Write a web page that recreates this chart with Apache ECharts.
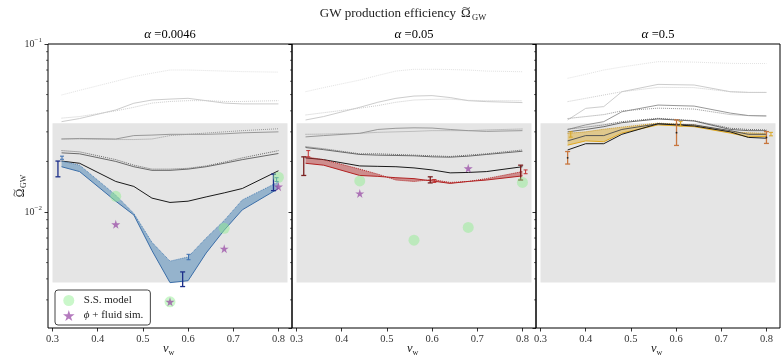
<!DOCTYPE html>
<html><head><meta charset="utf-8">
<script src="https://cdn.jsdelivr.net/npm/echarts@6/dist/echarts.min.js"></script>
<style>html,body{margin:0;padding:0;background:#fff}#c{width:782px;height:357px}</style>
</head><body><div id="c"></div>
<script>
const FONT = "'Liberation Serif', 'DejaVu Serif', serif";

// ---------- data ----------
const alphaLabels = ['0.0046', '0.05', '0.5'];
const xTickLabels = [0.3, 0.4, 0.5, 0.6, 0.7, 0.8];
const bandVw = [0.30, 0.82];
const bandOmega = [0.0038, 0.0337];
const minorTickVals = [0.003,0.004,0.005,0.006,0.007,0.008,0.009,0.02,0.03,0.04,0.05,0.06,0.07,0.08,0.09];

// Panel 1 (alpha = 0.0046)
const vw1 = [0.32,0.36,0.44,0.48,0.52,0.56,0.60,0.64,0.68,0.72,0.80];
const p1Faint  = [0.0497,0.053,0.060,0.064,0.067,0.070,0.070,0.0695,0.069,0.0685,0.068];
const p1LightS = [0.0345,0.036,0.0405,0.0444,0.0464,0.047,0.0475,0.046,0.0445,0.044,0.044];
const p1LightD = [0.0362,0.037,0.040,0.042,0.0445,0.0455,0.046,0.046,0.0455,0.0455,0.046];
const p1MidS   = [0.0272,0.0274,0.0272,0.0285,0.0287,0.029,0.029,0.029,0.0292,0.0296,0.030];
const p1MidD   = [0.0272,0.0272,0.027,0.027,0.0272,0.0285,0.029,0.0295,0.030,0.0305,0.0313];
const p1DarkS  = [0.0225,0.0222,0.020,0.0186,0.0177,0.0177,0.018,0.0186,0.0195,0.0205,0.0223];
const p1DarkD  = [0.0232,0.0228,0.0205,0.019,0.018,0.018,0.0182,0.0188,0.0198,0.021,0.0232];
const p1Black  = [0.0201,0.0195,0.0152,0.0142,0.0121,0.0114,0.0116,0.0123,0.013,0.0138,0.0176];
const p1BandUp = [0.0201,0.019,0.0126,0.0098,0.0066,0.0051,0.0054,0.0070,0.0089,0.0118,0.0151];
const p1BandLo = [0.0186,0.0174,0.0116,0.0096,0.0059,0.0038,0.0039,0.0057,0.0078,0.0103,0.0138];
const p1ErrMain  = [[0.312,0.0162,0.0201],[0.588,0.0036,0.0044],[0.789,0.0134,0.0168]];
const p1ErrSmall = [[0.321,0.0206,0.0215],[0.601,0.0052,0.0056],[0.796,0.0152,0.0160]];
const p1SS  = [[0.44,0.0124],[0.56,0.00292],[0.68,0.0080],[0.80,0.0161]];
const p1Sim = [[0.44,0.00845],[0.56,0.00292],[0.68,0.00605],[0.80,0.01416]];

// Panel 2 (alpha = 0.05)
const vw2 = [0.32,0.36,0.44,0.48,0.52,0.56,0.60,0.64,0.68,0.72,0.80];
const p2Faint  = [0.052,0.055,0.061,0.065,0.069,0.0707,0.0707,0.0705,0.070,0.069,0.0684];
const p2LightS = [0.0353,0.037,0.042,0.045,0.0475,0.049,0.0493,0.048,0.046,0.0454,0.0448];
const p2LightD = [0.0378,0.039,0.0415,0.043,0.045,0.0464,0.0468,0.047,0.0462,0.046,0.0459];
const p2MidS   = [0.028,0.0285,0.0294,0.031,0.0315,0.0317,0.0316,0.031,0.0305,0.0302,0.0305];
const p2MidD   = [0.029,0.0291,0.0294,0.0298,0.030,0.0302,0.0305,0.0305,0.0305,0.0308,0.0312];
const p2DarkS  = [0.0242,0.0235,0.022,0.0218,0.0217,0.0216,0.0213,0.0212,0.0215,0.022,0.023];
const p2DarkD  = [0.0245,0.0238,0.0222,0.0222,0.022,0.0218,0.0216,0.0214,0.0218,0.0222,0.0234];
const p2Black  = [0.021,0.0205,0.0188,0.0187,0.0186,0.0183,0.0178,0.0171,0.0172,0.0174,0.0186];
const p2BandUp = [0.0213,0.0205,0.0180,0.0168,0.0155,0.0152,0.0156,0.0150,0.0152,0.0158,0.0174];
const p2BandLo = [0.0195,0.0190,0.0165,0.0163,0.0160,0.0158,0.0153,0.0148,0.0152,0.0155,0.0164];
const p2ErrMain  = [[0.316,0.0165,0.0213],[0.596,0.0149,0.0162],[0.796,0.0155,0.0190]];
const p2ErrSmall = [[0.326,0.0213,0.0232],[0.605,0.0150,0.0156],[0.807,0.0169,0.0178]];
const p2SS  = [[0.44,0.0153],[0.56,0.0068],[0.68,0.0081],[0.80,0.0150]];
const p2Sim = [[0.44,0.0129],[0.68,0.0182]];

// Panel 3 (alpha = 0.5)
const vw3 = [0.36,0.40,0.44,0.48,0.56,0.64,0.72,0.76,0.80];
const p3Faint  = [0.0625,0.066,0.070,0.073,0.0785,0.078,0.0767,0.0765,0.0765];
const p3LightS = [0.0353,0.0414,0.0424,0.052,0.0575,0.057,0.052,0.0515,0.0515];
const p3LightD = [0.0454,0.0475,0.0497,0.052,0.0552,0.055,0.052,0.0515,0.0515];
const p3MidS   = [0.031,0.033,0.0345,0.0395,0.0433,0.0427,0.0388,0.0375,0.0373];
const p3MidD   = [0.036,0.037,0.038,0.040,0.0415,0.041,0.038,0.0375,0.0373];
const p3DarkS  = [0.030,0.031,0.0322,0.034,0.0358,0.0348,0.031,0.0305,0.0305];
const p3DarkD  = [0.0311,0.032,0.033,0.0345,0.0361,0.035,0.0315,0.031,0.0308];
const p3Inner  = [0.0265,0.0285,0.0285,0.031,0.0335,0.033,0.0305,0.029,0.029];
const p3Black  = [0.0234,0.0255,0.0255,0.029,0.0335,0.0325,0.030,0.0278,0.0275];
const p3BandUp = [0.0294,0.030,0.0311,0.032,0.0338,0.033,0.030,0.0296,0.0294];
const p3BandLo = [0.0250,0.0265,0.0262,0.0295,0.0330,0.0322,0.0295,0.0280,0.0282];
const p3ErrMain  = [[0.360,0.0193,0.0229],[0.601,0.0249,0.0353],[0.800,0.0256,0.0301]];
const p3ErrSmall = [[0.367,0.0279,0.0300],[0.610,0.0325,0.0345],[0.810,0.0284,0.0298]];

// ---------- styling ----------
const X_MIN = 0.29, X_MAX = 0.83, Y_MIN = 0.00204, Y_MAX = 0.1;
const GRID_LEFT = [48, 292, 536];
const C_FAINT = '#e2e2e2', C_LIGHT = '#cdcdcd', C_MID = '#999999', C_DARK = '#6a6a6a', C_BLACK = '#1a1a1a';
const STAR = 'path://M50,0 L61,35 L98,35 L68,57 L79,91 L50,70 L21,91 L32,57 L2,35 L39,35 Z';

const zip = (xs, ys) => xs.map((x, i) => [x, ys[i]]);

function line(g, xs, ys, color, type, width, z) {
  return { type: 'line', xAxisIndex: g, yAxisIndex: g, data: zip(xs, ys), symbol: 'none',
    lineStyle: { color, width: width || 1, type: type || 'solid' }, z: z || 3, silent: true, animation: false };
}
function band(g, xs, up, lo, fill, z) {
  return { type: 'custom', xAxisIndex: g, yAxisIndex: g, z: z || 4, silent: true, animation: false,
    data: [[0.5, 0.01]], clip: true,
    renderItem: (p, api) => {
      const pts = [];
      xs.forEach((x, i) => pts.push(api.coord([x, up[i]])));
      for (let i = xs.length - 1; i >= 0; i--) pts.push(api.coord([xs[i], lo[i]]));
      return { type: 'polygon', shape: { points: pts }, style: { fill: fill, stroke: null } };
    } };
}
function greyBand(g) {
  return { type: 'custom', xAxisIndex: g, yAxisIndex: g, z: 1, silent: true, animation: false,
    data: [[bandVw[0], bandOmega[0], bandVw[1], bandOmega[1]]],
    renderItem: (p, api) => {
      const a = api.coord([api.value(0), api.value(3)]);
      const b = api.coord([api.value(2), api.value(1)]);
      return { type: 'rect', shape: { x: a[0], y: a[1], width: b[0] - a[0], height: b[1] - a[1] }, style: { fill: '#e5e5e5' } };
    } };
}
function errBars(g, data, color, width, cap, dot) {
  return { type: 'custom', xAxisIndex: g, yAxisIndex: g, z: 8, silent: true, animation: false,
    data: data, encode: { x: 0, y: [1, 2] },
    renderItem: (p, api) => {
      const x = api.value(0);
      const lo = api.coord([x, api.value(1)]);
      const hi = api.coord([x, api.value(2)]);
      const st = { stroke: color, lineWidth: width };
      const ch = [
        { type: 'line', shape: { x1: lo[0], y1: lo[1], x2: hi[0], y2: hi[1] }, style: st },
        { type: 'line', shape: { x1: lo[0] - cap, y1: lo[1], x2: lo[0] + cap, y2: lo[1] }, style: st },
        { type: 'line', shape: { x1: hi[0] - cap, y1: hi[1], x2: hi[0] + cap, y2: hi[1] }, style: st }
      ];
      if (dot) ch.push({ type: 'circle', shape: { cx: lo[0], cy: (lo[1] + hi[1]) / 2, r: 0.9 }, style: { fill: '#222' } });
      return { type: 'group', children: ch };
    } };
}
function minorTicks(g) {
  return { type: 'custom', xAxisIndex: g, yAxisIndex: g, z: 9, silent: true, animation: false, clip: false,
    data: minorTickVals.map(v => [X_MIN, v]),
    renderItem: (p, api) => {
      const c = api.coord([api.value(0), api.value(1)]);
      return { type: 'line', shape: { x1: c[0] - 2, y1: c[1], x2: c[0], y2: c[1] }, style: { stroke: '#000', lineWidth: 0.6 } };
    } };
}
function scatterSS(g, d) {
  return { name: 'S.S. model', type: 'scatter', xAxisIndex: g, yAxisIndex: g, data: d, symbol: 'circle', symbolSize: 11,
    itemStyle: { color: 'rgba(144,238,144,0.6)' }, z: 10, silent: true, animation: false };
}
function scatterSim(g, d) {
  return { name: '\u03d5 + fluid sim.', type: 'scatter', xAxisIndex: g, yAxisIndex: g, data: d, symbol: STAR, symbolSize: 9,
    itemStyle: { color: 'rgba(145,60,160,0.85)' }, z: 11, silent: true, animation: false };
}

const series = [];
[0, 1, 2].forEach(g => { series.push(greyBand(g)); series.push(minorTicks(g)); });

// panel 1
series.push(line(0, vw1, p1Faint, C_FAINT, 'dotted'));
series.push(line(0, vw1, p1LightS, C_LIGHT));
series.push(line(0, vw1, p1LightD, C_LIGHT, 'dotted'));
series.push(line(0, vw1, p1MidS, C_MID));
series.push(line(0, vw1, p1MidD, C_MID, 'dotted'));
series.push(line(0, vw1, p1DarkS, C_DARK));
series.push(line(0, vw1, p1DarkD, C_DARK, 'dotted'));
series.push(line(0, vw1, p1Black, C_BLACK));
series.push(band(0, vw1, p1BandUp, p1BandLo, 'rgba(70,130,180,0.5)'));
series.push(line(0, vw1, p1BandUp, '#4a7fb5', 'dotted', 1, 5));
series.push(line(0, vw1, p1BandLo, '#3b6ea8', 'solid', 1, 5));
series.push(errBars(0, p1ErrMain, '#1c2f8a', 1.3, 2.5));
series.push(errBars(0, p1ErrSmall, '#3c6fb0', 1, 2));
series.push(scatterSS(0, p1SS));
series.push(scatterSim(0, p1Sim));

// panel 2
series.push(line(1, vw2, p2Faint, C_FAINT, 'dotted'));
series.push(line(1, vw2, p2LightS, C_LIGHT));
series.push(line(1, vw2, p2LightD, C_LIGHT, 'dotted'));
series.push(line(1, vw2, p2MidS, C_MID));
series.push(line(1, vw2, p2MidD, C_MID, 'dotted'));
series.push(line(1, vw2, p2DarkS, C_DARK));
series.push(line(1, vw2, p2DarkD, C_DARK, 'dotted'));
series.push(line(1, vw2, p2Black, C_BLACK));
series.push(band(1, vw2, p2BandUp, p2BandLo, 'rgba(178,34,34,0.45)'));
series.push(line(1, vw2, p2BandUp, '#b22222', 'dotted', 1, 5));
series.push(line(1, vw2, p2BandLo, '#b22222', 'solid', 1, 5));
series.push(errBars(1, p2ErrMain, '#7a1f1f', 1.3, 2.5));
series.push(errBars(1, p2ErrSmall, '#c03030', 1, 2));
series.push(scatterSS(1, p2SS));
series.push(scatterSim(1, p2Sim));

// panel 3
series.push(line(2, vw3, p3Faint, C_FAINT, 'dotted'));
series.push(line(2, vw3, p3LightS, C_LIGHT));
series.push(line(2, vw3, p3LightD, C_LIGHT, 'dotted'));
series.push(line(2, vw3, p3MidS, C_MID));
series.push(line(2, vw3, p3MidD, C_MID, 'dotted'));
series.push(line(2, vw3, p3DarkS, C_DARK));
series.push(line(2, vw3, p3DarkD, C_DARK, 'dotted'));
series.push(band(2, vw3, p3BandUp, p3BandLo, 'rgba(218,165,32,0.45)'));
series.push(line(2, vw3, p3BandUp, '#c9961e', 'dotted', 1, 5));
series.push(line(2, vw3, p3BandLo, '#e0a820', 'solid', 1, 5));
series.push(line(2, vw3, p3Inner, '#555555', 'solid', 1, 6));
series.push(line(2, vw3, p3Black, C_BLACK, 'solid', 1, 6));
series.push(errBars(2, p3ErrMain, '#c8763e', 1.3, 2.5, true));
series.push(errBars(2, p3ErrSmall, '#d9a520', 1, 2));

const txt = (x, y, text, size, align, extra) => ({ type: 'text', x, y, silent: true,
  style: Object.assign({ text, font: size + 'px ' + FONT, fill: '#222', align: align || 'left', verticalAlign: 'middle' }, extra || {}) });
const tilde = (x, y, w) => ({ type: 'bezierCurve', silent: true,
  shape: { x1: x, y1: y + 0.6, x2: x + w, y2: y - 0.6, cpx1: x + w * 0.35, cpy1: y - 2.6, cpx2: x + w * 0.65, cpy2: y + 2.6 },
  style: { stroke: '#222', lineWidth: 0.8, fill: null } });

const option = {
  backgroundColor: '#fff',
  animation: false,
  grid: GRID_LEFT.map(l => ({ left: l, top: 44, width: 244, height: 284, show: true, borderColor: '#000', borderWidth: 1,
    backgroundColor: 'transparent', containLabel: false, outerBoundsMode: 'none' })),
  xAxis: [0, 1, 2].map(g => ({
    type: 'value', gridIndex: g, min: X_MIN, max: X_MAX, splitNumber: 5,
    splitLine: { show: false }, axisLine: { show: false },
    axisTick: { show: true, length: 3.5, lineStyle: { color: '#000', width: 0.8 } },
    axisLabel: { fontFamily: FONT, fontSize: 10.5, color: '#333', margin: 6, showMinLabel: false, showMaxLabel: false,
      formatter: v => (xTickLabels.some(t => Math.abs(t - v) < 1e-6) ? v.toFixed(1) : '') }
  })),
  yAxis: [0, 1, 2].map(g => ({
    type: 'log', logBase: 10, gridIndex: g, min: Y_MIN, max: Y_MAX,
    splitLine: { show: false }, axisLine: { show: false },
    axisTick: { show: true, length: 3.5, lineStyle: { color: '#000', width: 0.8 } },
    minorTick: { show: false },
    axisLabel: { show: g === 0, showMinLabel: false, margin: 6, fontFamily: FONT, fontSize: 10, color: '#333',
      formatter: v => { const e = Math.log10(v); const r = Math.round(e); return Math.abs(e - r) < 1e-3 ? '{b|10}{p|\u2212' + (-r) + '}' : ''; },
      rich: { b: { fontFamily: FONT, fontSize: 10, color: '#333', lineHeight: 14, verticalAlign: 'middle' },
              p: { fontFamily: FONT, fontSize: 7, color: '#333', lineHeight: 7, verticalAlign: 'top' } } }
  })),
  legend: {
    left: 55, top: 290, orient: 'vertical', padding: [5, 7, 4, 8], itemGap: 4, itemWidth: 20, itemHeight: 11,
    backgroundColor: '#fff', borderColor: '#444', borderWidth: 1, borderRadius: 3,
    data: ['S.S. model', '\u03d5 + fluid sim.'],
    formatter: n => n === 'S.S. model' ? '{t|S.S. model}' : '{i|\u03d5}{t| + fluid sim.}',
    textStyle: { fontFamily: FONT, fontSize: 11, color: '#222',
      rich: { t: { fontFamily: FONT, fontSize: 11, color: '#222' }, i: { fontFamily: FONT, fontSize: 11, fontStyle: 'italic', color: '#222' } } }
  },
  graphic: [
    txt(456, 13.5, 'GW production efficiency', 13, 'right'),
    txt(461, 13.5, '\u03a9', 13, 'left'),
    tilde(462.5, 8, 7.5),
    txt(472, 17.5, 'GW', 8.5, 'left'),
    ...alphaLabels.map((a, i) => ({ type: 'text', x: GRID_LEFT[i] + 122, y: 35, silent: true,
      style: { text: '{i|\u03b1} {t|=' + a + '}', align: 'center', verticalAlign: 'middle',
        rich: { i: { fontFamily: FONT, fontSize: 13, fontStyle: 'italic', color: '#222' }, t: { fontFamily: FONT, fontSize: 12.5, color: '#222' } } } })),
    ...GRID_LEFT.map(l => ({ type: 'group', x: l + 122, y: 349, silent: true,
      children: [ txt(-1.5, 0, 'v', 12.5, 'right', { font: 'italic 12.5px ' + FONT }), txt(-1.5, 3.5, 'w', 8, 'left') ] })),
    { type: 'group', x: 20, y: 188, rotation: Math.PI / 2, silent: true,
      children: [
        txt(-5, 0.5, '\u03a9', 11.5, 'center'),
        tilde(-8.5, -5.5, 7),
        txt(0, 3.5, 'GW', 8, 'left')
      ] }
  ],
  series
};
const chart = echarts.init(document.getElementById('c'), null, { renderer: 'canvas' });
chart.setOption(option);
</script></body></html>
